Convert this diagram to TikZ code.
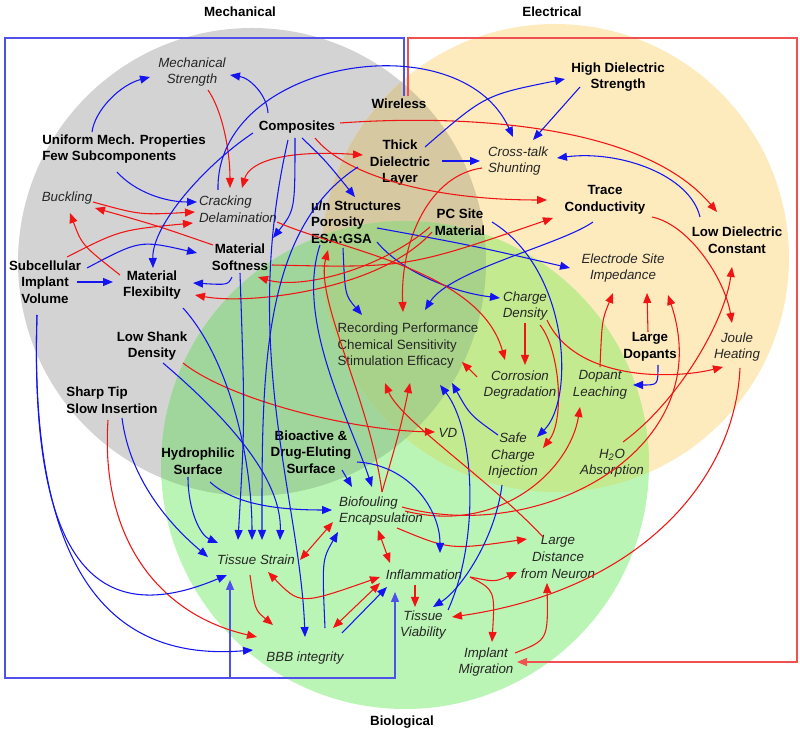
\documentclass[tikz,border=0pt]{standalone}
\usepackage{fontspec}
\setmainfont{Liberation Sans}
\usetikzlibrary{arrows.meta,calc}
\definecolor{cG}{RGB}{211,211,211}
\definecolor{cO}{RGB}{253,235,190}
\definecolor{cV}{RGB}{187,245,181}
\definecolor{cGO}{RGB}{214,200,160}
\definecolor{cGV}{RGB}{160,214,155}
\definecolor{cOV}{RGB}{196,234,143}
\definecolor{cGOV}{RGB}{168,209,138}
\definecolor{arrB}{RGB}{20,20,240}
\definecolor{arrR}{RGB}{240,20,20}
\definecolor{frB}{RGB}{80,80,235}
\definecolor{frR}{RGB}{240,80,80}
\begin{document}
\begin{tikzpicture}[x=0.75pt,y=-0.75pt,
  >={Triangle[length=7.5pt,width=6pt]},
  every node/.style={inner sep=1pt,font=\fontsize{10}{12.4}\selectfont},
  prop/.style={font=\fontsize{10}{12.4}\selectfont\bfseries,text=black,align=center},
  eff/.style={font=\fontsize{10}{12.4}\selectfont\itshape,text=black!85,align=center},
  txt/.style={text=black!85,align=left},
  bl/.style={draw=arrB,line width=0.8pt,->},
  rd/.style={draw=arrR,line width=0.8pt,->},
  rdd/.style={draw=arrR,line width=0.8pt,<->},
  bfr/.style={draw=frB,line width=0.9pt},
  rfr/.style={draw=frR,line width=0.9pt}]
\useasboundingbox (0,0) rectangle (800,737);
% circles
\fill[cG] (252,262) circle[radius=234];
\fill[cO] (555,258) circle[radius=234];
\fill[cV] (405,465) circle[radius=244];
\begin{scope}\clip (252,262) circle[radius=234]; \fill[cGO] (555,258) circle[radius=234];\end{scope}
\begin{scope}\clip (252,262) circle[radius=234]; \fill[cGV] (405,465) circle[radius=244];\end{scope}
\begin{scope}\clip (555,258) circle[radius=234]; \fill[cOV] (405,465) circle[radius=244];\end{scope}
\begin{scope}\clip (252,262) circle[radius=234]; \clip (555,258) circle[radius=234]; \fill[cGOV] (405,465) circle[radius=244];\end{scope}
% headings
\node[prop] (hmech) at (240,12) {Mechanical};
\node[prop] (helec) at (552,12) {Electrical};
\node[prop] (hbio) at (402,722) {Biological};
% nodes
\node[eff] (ms) at (192,72) {Mechanical\\Strength};
\node[prop,align=left] (ump) at (124,149) {Uniform Mech. Properties\\Few Subcomponents};
\node[prop] (comp) at (297,127) {Composites};
\node[prop] (wire) at (399,104) {Wireless};
\node[prop] (tdl) at (400,163) {Thick\\Dielectric\\Layer};
\node[eff,align=left] (ct) at (518,161) {Cross-talk\\Shunting};
\node[prop] (hds) at (618,77) {High Dielectric\\Strength};
\node[prop] (tc) at (605,200) {Trace\\Conductivity};
\node[prop] (ldc) at (737,240) {Low Dielectric\\Constant};
\node[eff,align=left] (crk) at (238,209) {Cracking\\Delamination};
\node[eff] (buck) at (67,198) {Buckling};
\node[prop,align=left] (mu) at (356,222) {µ/n Structures\\Porosity\\ESA:GSA};
\node[prop] (pcs) at (460,222) {PC Site\\Material};
\node[prop] (soft) at (240,257) {Material\\Softness};
\node[prop] (sub) at (45,282) {Subcellular\\Implant\\Volume};
\node[prop] (flex) at (152,285) {Material\\Flexibilty};
\node[prop] (lsd) at (152,346) {Low Shank\\Density};
\node[prop,align=left] (sharp) at (112,400) {Sharp Tip\\Slow Insertion};
\node[prop] (hyd) at (198,461) {Hydrophilic\\Surface};
\node[prop] (bioact) at (311,452) {Bioactive \&\\Drug-Eluting\\Surface};
\node[txt] (rec) at (408,346) {Recording Performance\\Chemical Sensitivity\\Stimulation Efficacy};
\node[eff] (cd) at (525,306) {Charge\\Density};
\node[eff] (corr) at (520,385) {Corrosion\\Degradation};
\node[eff] (esi) at (623,268) {Electrode Site\\Impedance};
\node[prop] (ld) at (650,347) {Large\\Dopants};
\node[eff] (jh) at (737,347) {Joule\\Heating};
\node[eff] (dl) at (600,385) {Dopant\\Leaching};
\node[eff] (vd) at (448,433) {VD};
\node[eff] (sci) at (513,456) {Safe\\Charge\\Injection};
\node[eff] (h2o) at (612,463) {H\textsubscript{2}O\\Absorption};
\node[eff,align=left] (bf) at (381,511) {Biofouling\\Encapsulation};
\node[eff] (ts) at (256,560) {Tissue Strain};
\node[eff] (inf) at (424,575) {Inflammation};
\node[eff] (tv) at (423,625) {Tissue\\Viability};
\node[eff] (bbb) at (305,658) {BBB integrity};
\node[eff] (ldn) at (558,557) {Large\\Distance\\from Neuron};
\node[eff] (im) at (486,662) {Implant\\Migration};
% frames
\coordinate (bTL) at (5,38);
\coordinate (bBL) at (5,678);
\coordinate (rTR) at (797,38);
\draw[bfr,->] ($(wire)+(5,-8)$) |- (bTL) -- (bBL) -| ($(inf)+(-29,17)$);
\draw[bfr,->] ($(ts)+(-26,118)$) -- ($(ts)+(-26,20)$);
\draw[rfr,->] ($(wire)+(9,-8)$) |- (rTR) |- ($(im)+(31,0)$);
% connectors
\draw[bl] ($(ump)+(-32,-17)$) .. controls (95,110) and (120,85) .. ($(ms)+(-42,5)$);
\draw[bl] ($(comp)+(-29,-14)$) .. controls (267,95) and (250,78) .. ($(ms)+(38,3)$);
\draw[rd] ($(ms)+(16,18)$) .. controls (222,110) and (230,150) .. ($(crk)+(-8,-21)$);
\draw[rdd] ($(crk)+(4,-21)$) .. controls (250,160) and (290,150) .. ($(tdl)+(-37,-8)$);
\draw[bl] ($(ump)+(-7,23)$) .. controls (135,192) and (165,202) .. ($(crk)+(-41,-7)$);
\draw[rd] ($(buck)+(26,4)$) .. controls (140,215) .. ($(crk)+(-43,3)$);
\draw[rd] ($(soft)+(-27,-12)$) .. controls (155,225) .. ($(buck)+(28,10)$);
\draw[rd] ($(sub)+(22,-25)$) .. controls (120,230) .. ($(crk)+(-45,14)$);
\draw[rd] ($(flex)+(-32,-10)$) .. controls (82,245) .. ($(buck)+(3,15)$);
\draw[bl] ($(comp)+(-44,6)$) .. controls (205,165) and (152,225) .. ($(flex)+(1,-17)$);
\draw[bl] ($(crk)+(-20,-19)$) .. controls (215,60) and (460,20) .. ($(ct)+(-5,-24)$);
\draw[rd] ($(comp)+(43,-4)$) .. controls (450,115) and (640,120) .. ($(ldc)+(-20,-28)$);
\draw[rd] ($(comp)+(18,11)$) .. controls (345,175) and (430,200) .. ($(tc)+(-58,0)$);
\draw[bl] ($(comp)+(5,11)$) .. controls (325,160) .. ($(mu)+(-1,-25)$);
\draw[bl] ($(comp)+(-2,11)$) .. controls (295,210) .. ($(soft)+(33,-19)$);
\draw[bl] ($(tdl)+(42,-2)$) -- ($(ct)+(-38,0)$);
\draw[bl] ($(tdl)+(25,-16)$) .. controls (485,95) .. ($(hds)+(-53,2)$);
\draw[bl] ($(hds)+(-38,10)$) -- ($(ct)+(15,-21)$);
\draw[bl] ($(ldc)+(-37,-23)$) .. controls (690,175) and (620,150) .. ($(ct)+(39,-3)$);
\draw[rd] ($(ct)+(-36,7)$) .. controls (430,175) and (400,240) .. ($(rec)+(-5,-34)$);
\draw[bl] ($(tc)+(-12,22)$) .. controls (560,245) and (450,270) .. ($(rec)+(17,-36)$);
\draw[rd] ($(tc)+(47,17)$) .. controls (690,225) and (725,280) .. ($(jh)+(-5,-24)$);
\draw[rd] ($(h2o)+(11,-21)$) .. controls (680,400) and (725,320) .. ($(ldc)+(-5,27)$);
\draw[rd] ($(dl)+(0,-18)$) .. controls (602,320) .. ($(esi)+(-10,25)$);
\draw[rd] ($(ld)+(-2,-15)$) -- ($(esi)+(24,25)$);
\draw[rd] ($(bf)+(21,-4)$) .. controls (540,545) and (720,450) .. ($(esi)+(45,27)$);
\draw[rd] ($(bf)+(24,0)$) .. controls (500,535) and (570,470) .. ($(dl)+(-20,22)$);
\draw[rd] ($(bf)+(16,17)$) .. controls (450,550) .. ($(ldn)+(-31,-18)$);
\draw[bl] ($(ld)+(8,18)$) .. controls (658,385) .. ($(dl)+(33,0)$);
\draw[rd] ($(cd)+(22,14)$) .. controls (575,380) and (670,380) .. ($(jh)+(-14,20)$);
\draw[rd] ($(cd)+(0,17)$) -- ($(corr)+(5,-20)$);
\draw[rd] ($(cd)+(15,19)$) .. controls (560,350) and (565,420) .. ($(sci)+(30,-8)$);
\draw[bl] ($(pcs)+(32,0)$) .. controls (570,270) and (575,400) .. ($(sci)+(24,-19)$);
\draw[bl] ($(sci)+(-15,-21)$) .. controls (470,415) .. ($(rec)+(44,37)$);
\draw[bl] ($(sci)+(-11,29)$) .. controls (495,540) and (460,590) .. ($(tv)+(10,-18)$);
\draw[bl] ($(tv)+(25,-15)$) .. controls (480,540) and (475,430) .. ($(rec)+(32,39)$);
\draw[rd] ($(corr)+(-43,-8)$) -- ($(rec)+(54,16)$);
\draw[bl] ($(mu)+(-13,26)$) .. controls (345,295) .. ($(rec)+(-46,-31)$);
\draw[bl] ($(mu)+(21,20)$) .. controls (400,270) and (450,292) .. ($(cd)+(-25,-8)$);
\draw[bl] ($(mu)+(21,6)$) .. controls (470,245) .. ($(esi)+(-53,0)$);
\draw[rd] ($(lsd)+(31,17)$) .. controls (230,400) and (350,430) .. ($(vd)+(-13,-1)$);
\draw[rd] ($(sharp)+(-4,20)$) .. controls (100,540) and (160,615) .. ($(bbb)+(-48,-21)$);
\draw[bl] ($(sharp)+(10,18)$) .. controls (130,480) and (170,525) .. ($(ts)+(-48,-3)$);
\draw[bl] ($(hyd)+(-10,16)$) .. controls (188,510) and (200,535) .. ($(ts)+(-38,-17)$);
\draw[bl] ($(hyd)+(12,21)$) .. controls (235,505) and (280,510) .. ($(bf)+(-49,-1)$);
\draw[bl] ($(sub)+(-8,33)$) .. controls (28,600) and (120,620) .. ($(ts)+(-29,15)$);
\draw[bl] ($(sub)+(-8,33)$) .. controls (28,600) and (130,660) .. ($(bbb)+(-52,-8)$);
\draw[bl] ($(sub)+(42,-14)$) .. controls (140,240) .. ($(soft)+(-43,-4)$);
\draw[bl] ($(sub)+(32,0)$) -- ($(flex)+(-39,-3)$);
\draw[bl] ($(soft)+(-8,20)$) .. controls (228,285) .. ($(flex)+(41,-2)$);
\draw[rd] ($(pcs)+(-30,5)$) .. controls (380,270) and (300,290) .. ($(soft)+(18,20)$);
\draw[rd] ($(pcs)+(-28,10)$) .. controls (380,290) and (250,305) .. ($(flex)+(43,10)$);
\draw[rd] ($(soft)+(32,8)$) .. controls (407,268) .. ($(tc)+(-52,18)$);
\draw[rd] ($(crk)+(39,13)$) .. controls (340,250) and (480,270) .. ($(corr)+(-15,-25)$);
\draw[bl] ($(lsd)+(11,17)$) .. controls (230,420) and (282,480) .. ($(ts)+(24,-20)$);
\draw[bl] ($(soft)+(0,16)$) .. controls (245,420) .. ($(ts)+(-18,-20)$);
\draw[bl] ($(flex)+(31,23)$) .. controls (230,360) and (252,460) .. ($(ts)+(-4,-20)$);
\draw[bl] ($(tdl)+(-42,4)$) .. controls (260,230) and (262,380) .. ($(ts)+(6,-20)$);
\draw[bl] ($(comp)+(-9,13)$) .. controls (240,350) and (300,500) .. ($(bbb)+(0,-21)$);
\draw[bl] ($(bioact)+(31,18)$) -- ($(bf)+(-29,-24)$);
\draw[bl] ($(mu)+(-36,23)$) .. controls (295,320) and (350,420) .. ($(bf)+(-9,-24)$);
\draw[rd] ($(bf)+(1,-19)$) .. controls (370,400) and (315,300) .. ($(mu)+(-28,28)$);
\draw[rd] ($(bf)+(1,-19)$) .. controls (400,430) .. ($(rec)+(2,37)$);
\draw[rd] ($(ldn)+(-15,-20)$) .. controls (490,480) and (400,420) .. ($(rec)+(-23,37)$);
\draw[bl] ($(bioact)+(46,10)$) .. controls (410,465) and (440,510) .. ($(inf)+(16,-22)$);
\draw[rdd] ($(ts)+(44,0)$) -- ($(bf)+(-48,11)$);
\draw[bl] ($(bbb)+(20,-30)$) .. controls (322,560) .. ($(bf)+(-43,21)$);
\draw[rdd] ($(bf)+(-3,19)$) -- ($(inf)+(-34,-12)$);
\draw[rdd] ($(ts)+(12,12)$) .. controls (300,605) .. ($(inf)+(-44,2)$);
\draw[rd] ($(ts)+(-6,15)$) .. controls (255,610) .. ($(bbb)+(-32,-33)$);
\draw[rdd] ($(bbb)+(28,-30)$) -- ($(inf)+(-44,8)$);
\draw[bl] ($(bbb)+(37,-25)$) -- ($(inf)+(-37,12)$);
\draw[rd] ($(inf)+(-9,10)$) -- ($(tv)+(-8,-18)$);
\draw[rd] ($(inf)+(46,2)$) .. controls (495,582) .. ($(ldn)+(-41,15)$);
\draw[rd] ($(inf)+(46,2)$) .. controls (495,590) .. ($(im)+(6,-20)$);
\draw[rd] ($(im)+(29,-9)$) .. controls (548,640) .. ($(ldn)+(-11,26)$);
\draw[rd] ($(jh)+(3,21)$) .. controls (735,480) and (640,590) .. ($(tv)+(29,-8)$);
\end{tikzpicture}
\end{document}
